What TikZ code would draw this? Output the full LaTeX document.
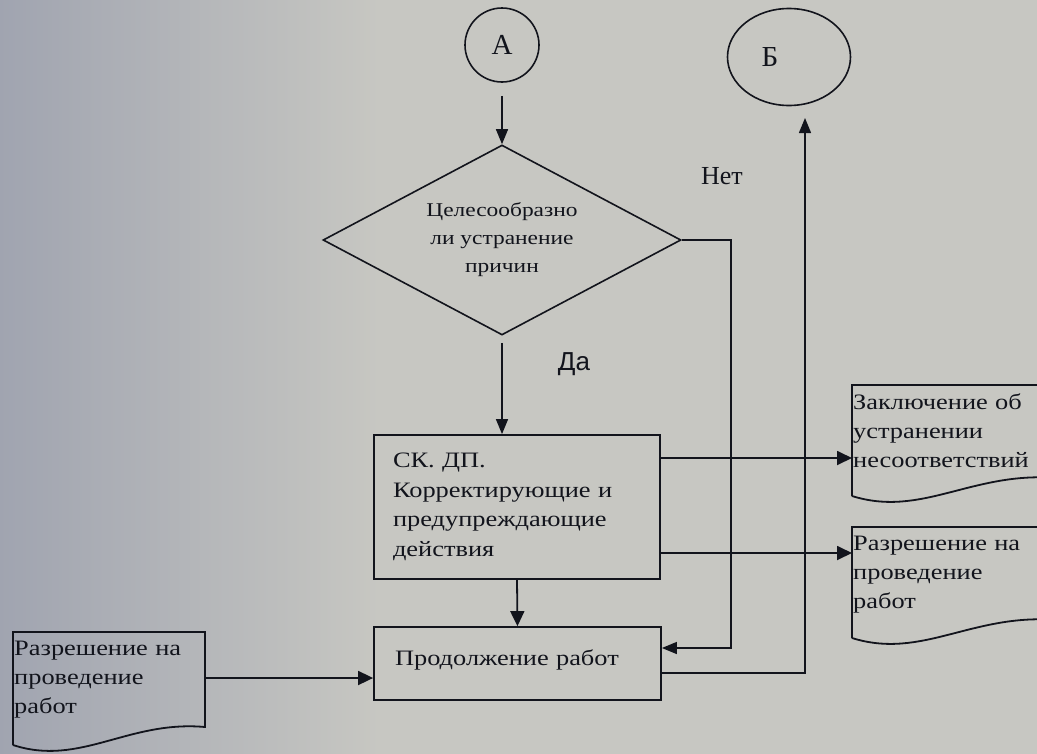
\documentclass[tikz,border=0pt]{standalone}
\usepackage{fontspec}
\setmainfont{Liberation Serif}
\newfontfamily\bodyfont[FakeStretch=1.2]{Liberation Serif}
\newfontfamily\labelfont{Liberation Sans}
\usetikzlibrary{arrows.meta,shapes.geometric}
\definecolor{paper}{RGB}{199,199,194}
\definecolor{paperdark}{RGB}{160,164,176}
\definecolor{ink}{RGB}{18,20,28}
\begin{document}
\begin{tikzpicture}[x=1pt,y=-1pt,
  every node/.style={text=ink},
  line/.style={draw=ink, line width=1.8pt},
  thinline/.style={draw=ink, line width=1.4pt},
  arr/.style={line, -{Triangle[length=15pt,width=14pt]}},
  thinarr/.style={thinline, -{Triangle[length=15pt,width=12pt]}},
  box/.style={draw=ink, line width=1.8pt, rectangle, inner ysep=0pt, align=left,
    font=\bodyfont\fontsize{22}{29.5}\selectfont},
  decision/.style={draw=ink, line width=1.6pt, diamond, aspect=1.884, inner sep=0pt,
    minimum width=358pt, minimum height=190pt, align=center,
    font=\bodyfont\fontsize{19.5}{28}\selectfont},
  connector/.style={draw=ink, line width=1.6pt, ellipse, inner sep=0pt,
    font=\fontsize{29}{32}\selectfont},
  doc/.style={anchor=north west, inner xsep=1pt, inner ysep=9pt, align=left,
    text width=190pt, font=\bodyfont\fontsize{22}{29}\selectfont},
]
\useasboundingbox (0,0) rectangle (1037,753);
\fill[paper] (-2,-2) rectangle (1040,756);
\shade[left color=paperdark, right color=paper] (-2,-2) rectangle (380,756);

% connectors
\node[connector, minimum width=74pt, minimum height=74pt] (A) at (502,45) {А};
\node[connector, minimum width=123pt, minimum height=97pt] (B) at (789,57) {Б\hspace*{38pt}};

% decision
\node[decision] (dia) at (502,240) {Целесообразно\\ли устранение\\причин};

% process boxes
\node[box, text width=248pt, inner xsep=19pt, minimum height=144pt] (r1) at (517,507)
  {СК. ДП.\\Корректирующие и\\предупреждающие\\действия};
\node[box, text width=245pt, inner xsep=21pt, minimum height=73pt,
  text height=15pt, text depth=12pt] (r2) at (517.5,663.5) {Продолжение работ};

% documents
\node[doc] (d1) at (852,385) {Заключение об\\устранении\\несоответствий};
\node[doc] (d2) at (852,527) {Разрешение на\\проведение\\работ};
\node[doc] (d3) at (13,632) {Разрешение на\\проведение\\работ};

\begin{scope}[shift={(d1.north west)}]
  \draw[line] (0,111) -- (0,0) -- (205,0) -- (205,93)
    .. controls (120,86) and (70,133) .. (0,111);
\end{scope}
\begin{scope}[shift={(d2.north west)}]
  \draw[line] (0,111) -- (0,0) -- (205,0) -- (205,93)
    .. controls (120,86) and (70,133) .. (0,111);
\end{scope}
\begin{scope}[shift={(d3.north west)}]
  \draw[line] (0,113) -- (0,0) -- (192,0) -- (192,95)
    .. controls (115,88) and (67,135) .. (0,113);
\end{scope}

% labels
\node[font=\labelfont\fontsize{26}{30}\selectfont] (yes) at (574,364) {Да};
\node[font=\fontsize{26}{30}\selectfont] (no) at (722,176) {Нет};

% named points for routed connectors
\coordinate (nocorner) at (731,648);
\coordinate (bcorner) at (805,673);
\coordinate (btip) at (805,118);
\coordinate (d1in) at ([yshift=-73pt]d1.north west);
\coordinate (d2in) at ([yshift=-26pt]d2.north west);
\coordinate (d3out) at ([yshift=-46pt]d3.north east);

% flow
\draw[thinarr, shorten <=13pt] (A.south) -- (A.south |- dia.north);
\draw[thinarr, shorten <=7pt] (dia.south) -- (dia.south |- r1.north);
\draw[arr] (r1.south) -- (r2.north);
\draw[thinarr] (dia.east) -| (nocorner) -- (nocorner -| r2.east);
\draw[arr] (r1.east |- d1in) -- (d1in);
\draw[arr] (r1.east |- d2in) -- (d2in);
\draw[arr] (d3out) -- (d3out -| r2.west);
\draw[thinarr] (bcorner -| r2.east) -- (bcorner) -- (btip);
\end{tikzpicture}
\end{document}
